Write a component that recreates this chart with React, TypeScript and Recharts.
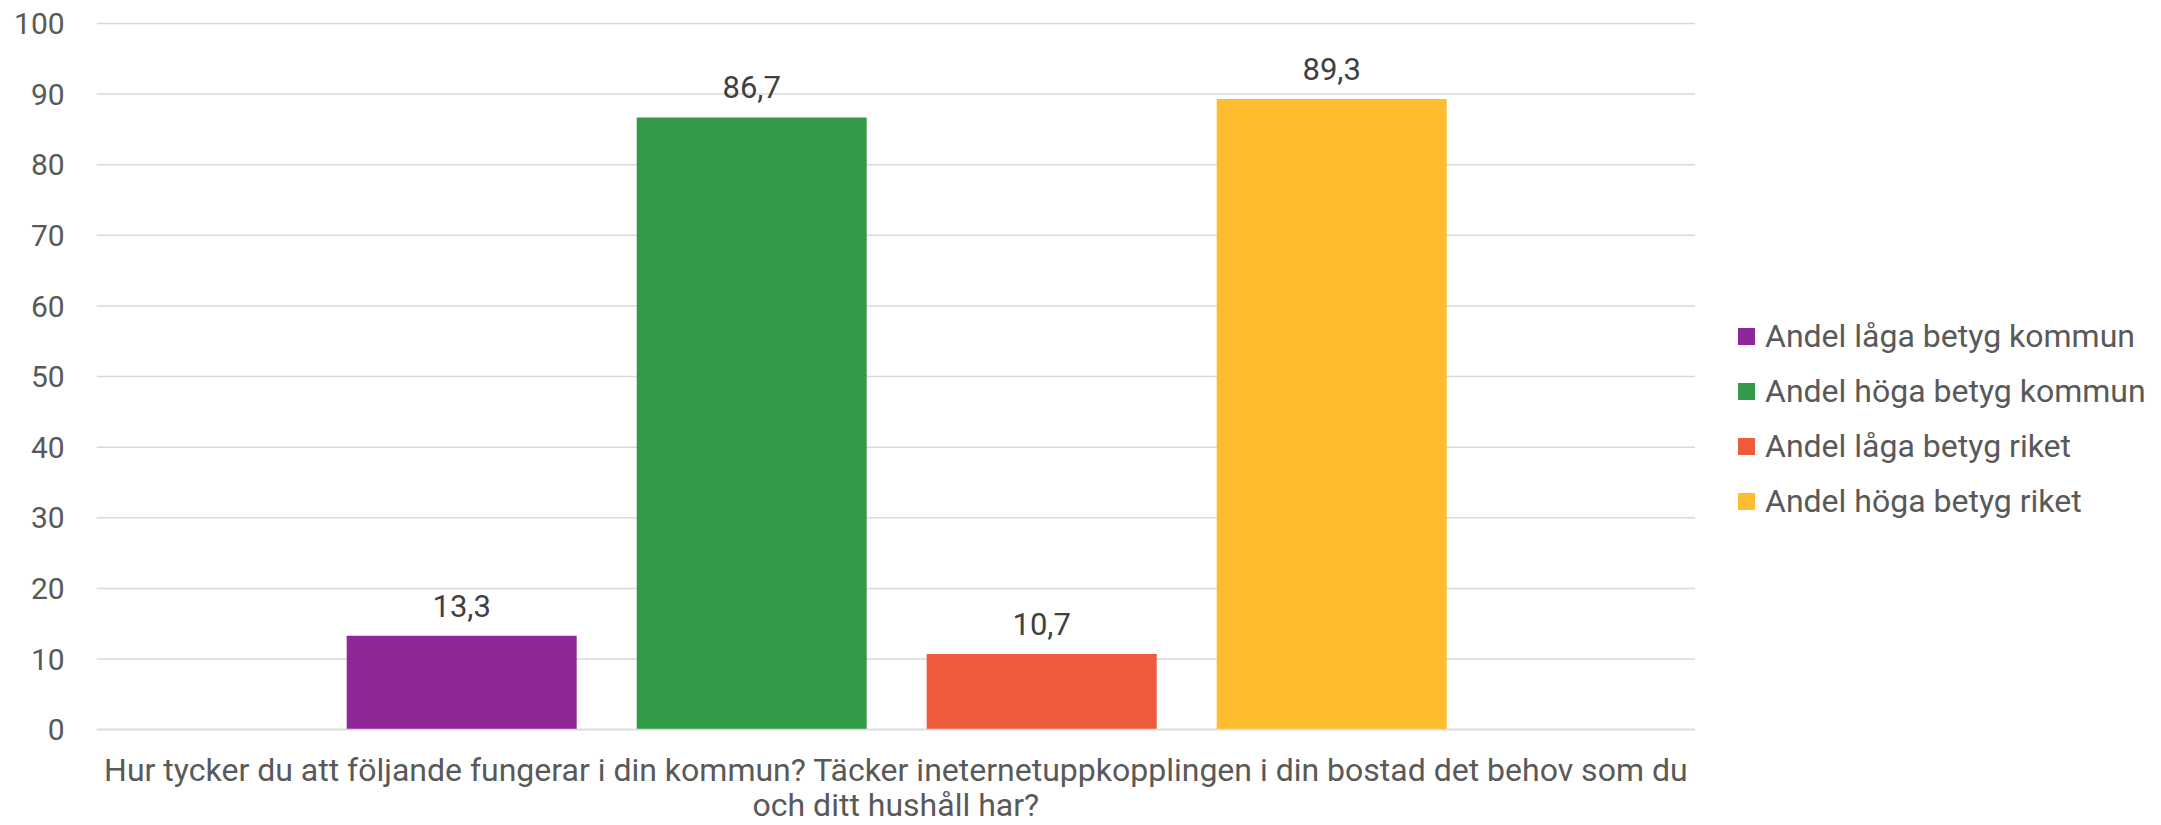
import { BarChart, Bar, XAxis, YAxis, CartesianGrid, Legend, LabelList } from 'recharts'

const categories = [
  'Hur tycker du att följande fungerar i din kommun? Täcker ineternetuppkopplingen i din bostad det behov som du och ditt hushåll har?',
]
const seriesNames = [
  'Andel låga betyg kommun',
  'Andel höga betyg kommun',
  'Andel låga betyg riket',
  'Andel höga betyg riket',
]
const seriesKeys = ['lagaKommun', 'hogaKommun', 'lagaRiket', 'hogaRiket']
const lagaKommun = [13.3]
const hogaKommun = [86.7]
const lagaRiket = [10.7]
const hogaRiket = [89.3]
const yTicks = [0, 10, 20, 30, 40, 50, 60, 70, 80, 90, 100]
const colors = ['#8e2899', '#339a47', '#ee5a3c', '#fdbd2f']

const data = categories.map((name, i) => ({
  name,
  lagaKommun: lagaKommun[i],
  hogaKommun: hogaKommun[i],
  lagaRiket: lagaRiket[i],
  hogaRiket: hogaRiket[i],
}))

const FONT = 'Roboto, sans-serif'
const fmt = (v: number) => v.toFixed(1).replace('.', ',')

// greedy word wrap, measured with a canvas
function wrapLines(text: string, maxWidth: number, font: string) {
  const ctx = document.createElement('canvas').getContext('2d')
  if (!ctx) return [text]
  ctx.font = font
  const lines: string[] = []
  let cur = ''
  for (const w of text.split(' ')) {
    const next = cur ? cur + ' ' + w : w
    if (cur && ctx.measureText(next).width > maxWidth) {
      lines.push(cur)
      cur = w
    } else {
      cur = next
    }
  }
  if (cur) lines.push(cur)
  return lines
}

function CategoryTick({ x, y, payload }: { x?: number; y?: number; payload?: { value: string } }) {
  const lines = wrapLines(payload?.value ?? '', 1600, `32px ${FONT}`)
  return (
    <text x={x} y={y} textAnchor="middle" fontSize={32} fontFamily={FONT} fill="#595959">
      {lines.map((l, i) => (
        <tspan key={i} x={x} dy={i === 0 ? '0.68em' : 35}>
          {l}
        </tspan>
      ))}
    </text>
  )
}

function LegendContent() {
  return (
    <div style={{ fontFamily: FONT, fontSize: 32, color: '#595959' }}>
      {seriesNames.map((n, i) => (
        <div key={n} style={{ display: 'flex', alignItems: 'center', height: 55, whiteSpace: 'nowrap' }}>
          <span style={{ width: 17, height: 17, background: colors[i], marginRight: 10, flexShrink: 0 }} />
          <span>{n}</span>
        </div>
      ))}
    </div>
  )
}

export default function App() {
  return (
    <div style={{ position: 'absolute', left: 0, top: 0, background: '#fff' }}>
      <BarChart
        width={2161}
        height={825}
        data={data}
        margin={{ top: 23.5, right: 466, left: 0, bottom: 0 }}
        barCategoryGap={250}
        barGap={60}
      >
        <CartesianGrid vertical={false} stroke="#d9d9d9" strokeWidth={1.5} />
        <XAxis
          xAxisId="edge"
          type="number"
          domain={[0, 1]}
          ticks={[0, 1]}
          height={0}
          axisLine={false}
          tick={false}
          tickSize={10}
          tickLine={{ stroke: '#d9d9d9', strokeWidth: 1.5 }}
        />
        <XAxis
          dataKey="name"
          height={95.4}
          axisLine={{ stroke: '#d9d9d9', strokeWidth: 1.5 }}
          tickLine={false}
          tickSize={0}
          tickMargin={30}
          interval={0}
          tick={<CategoryTick />}
        />
        <YAxis
          domain={[0, 100]}
          ticks={yTicks}
          width={96.7}
          axisLine={false}
          tickLine={false}
          tickSize={0}
          tickMargin={32}
          tick={{ fill: '#595959', fontSize: 30, fontFamily: FONT }}
        />
        <Legend
          layout="vertical"
          align="center"
          verticalAlign="middle"
          wrapperStyle={{ left: 1738, top: 308.5, width: 420 }}
          content={<LegendContent />}
        />
        {seriesKeys.map((k, i) => (
          <Bar key={k} dataKey={k} name={seriesNames[i]} fill={colors[i]} isAnimationActive={false}>
            <LabelList
              dataKey={k}
              position="top"
              offset={19}
              formatter={(v: number) => fmt(v)}
              style={{ fill: '#404040', fontSize: 31, fontFamily: FONT }}
            />
          </Bar>
        ))}
      </BarChart>
    </div>
  )
}
